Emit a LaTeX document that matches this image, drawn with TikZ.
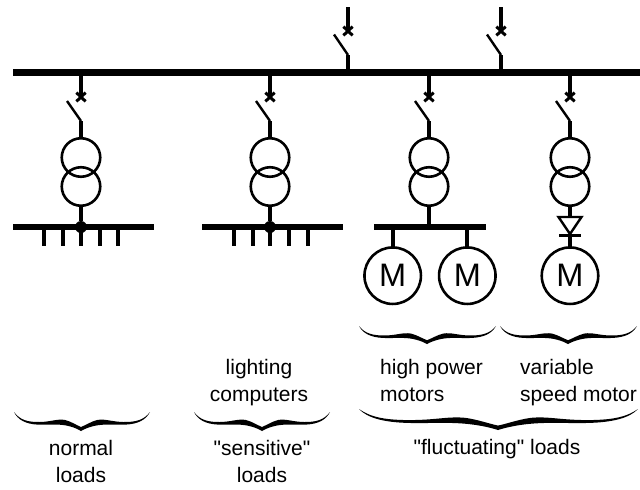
\documentclass[tikz,border=0pt]{standalone}
\usepackage{fontspec}
\setmainfont{Liberation Sans}[Ligatures=TeXOff]
\tikzset{
  x=1pt,y=-1pt,
  busbar/.style={line width=6.2pt,line cap=butt},
  conductor/.style={line width=4pt,line cap=butt},
  blade/.style={line width=2.4pt,line cap=butt},
  crossmark/.style={line width=3pt,line cap=butt},
  winding/.style={circle,draw,line width=2.6pt,minimum size=38.5pt,inner sep=0pt,outer sep=0pt},
  motor/.style={circle,draw,line width=2.6pt,minimum size=56.5pt,inner sep=0pt,outer sep=0pt,font=\fontsize{32.5}{32.5}\selectfont},
  junction/.style={circle,fill=black,minimum size=12pt,inner sep=0pt,outer sep=0pt},
  lbl/.style={inner sep=0pt,anchor=base,font=\fontsize{21}{27}\selectfont},
  lblleft/.style={inner sep=0pt,anchor=base west,font=\fontsize{21}{27}\selectfont},
}
% half-brace outline, unit width 68, unit height 19; x=0 is the outer end, x=68 the tip
\newcommand{\halfbrace}{%
  (0,0) .. controls (6,8) and (14,10.2) .. (26,10)
  .. controls (38,9.8) and (44,6.5) .. (52,8)
  .. controls (58,9.5) and (63,13) .. (68,15)
  -- (68,19)
  .. controls (62,15.5) and (54,12.8) .. (44,12.6)
  .. controls (36,12.4) and (30,13) .. (24,12.6)
  .. controls (12,12) and (4,8) .. (0,0) -- cycle}
\newcommand{\curlybrace}[5]{% centre, half width left, half width right, top, height
  \fill[shift={(#1-#2,#4)},xscale=#2/68,yscale=#5/19] \halfbrace;
  \fill[shift={(#1+#3,#4)},xscale=-#3/68,yscale=#5/19] \halfbrace;
}
\newcommand{\crossat}[2]{%
  \draw[crossmark] (#1-4.6,#2-4.4) -- (#1+4.6,#2+4.4) (#1+4.6,#2-4.4) -- (#1-4.6,#2+4.4);
}
\begin{document}
\begin{tikzpicture}
\useasboundingbox (0,0) rectangle (640,490);
% main bus
\coordinate (busL) at (13,72.5);
\coordinate (busR) at (640,72.5);
\draw[busbar] (busL) -- (busR);
% incomers
\foreach \n/\xx in {a/348,b/501}{
  \coordinate (\n-top) at (\xx,7);
  \coordinate (\n-cross) at (\xx,31);
  \coordinate (\n-hinge) at (\xx,55);
  \coordinate (\n-tip) at (\xx-14,34.5);
  \coordinate (\n-bus) at (\xx,72.5);
  \draw[conductor] (\n-top) -- (\n-cross);
  \crossat{\xx}{31}
  \draw[blade] (\n-tip) -- (\n-hinge);
  \draw[conductor] (\n-hinge) -- (\n-bus);
}
% feeders
\foreach \n/\xx in {c/81,d/270,e/429,f/570}{
  \coordinate (\n-bus) at (\xx,72.5);
  \coordinate (\n-cross) at (\xx,97);
  \coordinate (\n-hinge) at (\xx,121);
  \coordinate (\n-tip) at (\xx-14,101);
  \node[winding] (\n-up) at (\xx,157.5) {};
  \node[winding] (\n-lo) at (\xx,186.5) {};
  \draw[conductor] (\n-bus) -- (\n-cross);
  \crossat{\xx}{97}
  \draw[blade] (\n-tip) -- (\n-hinge);
  \draw[conductor] (\n-hinge) -- (\n-up.north);
}
% load bars
\coordinate (c1) at (13,227); \coordinate (c2) at (154,227);
\draw[busbar] (c1) -- (c2);
\coordinate (d1) at (202,227); \coordinate (d2) at (343,227);
\draw[busbar] (d1) -- (d2);
\node[junction] (cj) at (81,227) {};
\node[junction] (dj) at (270,227) {};
\draw[conductor] (c-lo.south) -- (cj);
\draw[conductor] (d-lo.south) -- (dj);
\foreach \xx in {44,63,81,100,118,234,253,270,289,308}{
  \coordinate (s) at (\xx,227);
  \coordinate (t) at (\xx,245.5);
  \draw[conductor] (s) -- (t);
}
% motors bus
\coordinate (e1) at (374,226.7); \coordinate (e2) at (486,226.7);
\draw[busbar] (e1) -- (e2);
\coordinate (ej) at (429,226.7);
\draw[conductor] (e-lo.south) -- (ej);
\node[motor] (m1) at (392.7,275.7) {M};
\node[motor] (m2) at (467.3,275.7) {M};
\node[motor] (m3) at (570,275.7) {M};
\coordinate (m1s) at (392.7,226.7);
\coordinate (m2s) at (467.3,226.7);
\draw[conductor] (m1s) -- (m1.north);
\draw[conductor] (m2s) -- (m2.north);
% diode
\coordinate (dtop) at (570,217.5);
\coordinate (dbar) at (570,235.7);
\draw[conductor] (f-lo.south) -- (dtop);
\draw[line width=2.4pt,miter limit=3] (558.5,217) -- (581.5,217) -- (570,234) -- cycle;
\draw[line width=3pt] (559,235.7) -- (581,235.7);
\draw[conductor] (dbar) -- (m3.north);
% braces
\curlybrace{81}{67}{69}{412}{19}
\curlybrace{262}{68}{68}{412}{19}
\curlybrace{427}{68}{69}{326}{18}
\curlybrace{568}{68}{69}{326}{18}
\curlybrace{498}{139}{140}{409}{21}
% labels
\node[lbl] (t1) at (81,455) {normal};
\node[lbl] (t2) at (81,482) {loads};
\node[lbl] (t3) at (259,374) {lighting};
\node[lbl] (t4) at (259,401) {computers};
\node[lbl] (t5) at (262,455) {"sensitive"};
\node[lbl] (t6) at (262,482) {loads};
\node[lblleft] (t7) at (380,374) {high power};
\node[lblleft] (t8) at (380,401) {motors};
\node[lblleft] (t9) at (520,374) {variable};
\node[lblleft] (t10) at (520,401) {speed motor};
\node[lbl] (t11) at (497,454) {"fluctuating" loads};
\end{tikzpicture}
\end{document}
